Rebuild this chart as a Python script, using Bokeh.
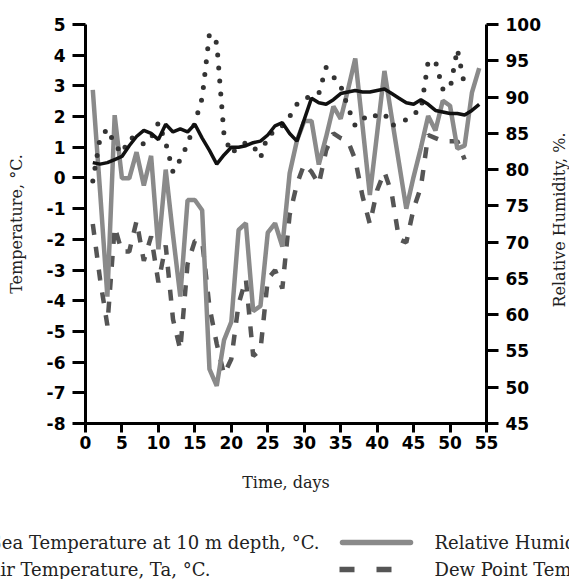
from bokeh.plotting import figure
from bokeh.models import Range1d, LinearAxis, FixedTicker
from bokeh.layouts import row
from bokeh.embed import file_html
from bokeh.resources import INLINE
from bokeh.core.properties import value
import math

# ---------------- data ----------------
days = list(range(1, 55))
sea_temp = [0.5, 0.45, 0.5, 0.6, 0.7, 1.05, 1.35, 1.55, 1.45, 1.25,
            1.75, 1.5, 1.6, 1.5, 1.75, 1.3, 0.9, 0.45, 0.75, 1.0,
            1.0, 1.05, 1.15, 1.2, 1.4, 1.7, 1.8, 1.45, 1.2, 1.9,
            2.6, 2.45, 2.4, 2.55, 2.75, 2.8, 2.85, 2.8, 2.8, 2.85,
            2.9, 2.75, 2.6, 2.45, 2.4, 2.55, 2.4, 2.2, 2.15, 2.1,
            2.1, 2.05, 2.2, 2.4]
rel_hum = [91, 77, 62.5, 87.5, 78.8, 78.8, 82.4, 77.8, 81.9, 69,
           80, 71, 62.5, 75.8, 75.8, 74.4, 52.5, 50.2, 56.5, 59,
           71.7, 72.6, 60.5, 61.2, 71.3, 72.6, 69.4, 79.5, 84, 86.7,
           86.7, 80.7, 84.5, 88.7, 87, 91, 95.3, 86, 76.5, 85,
           93.6, 87.2, 80.9, 74.6, 79, 83, 87.4, 85.4, 89.5, 88.8,
           82.9, 83.3, 90.6, 94]
air_days = list(range(1, 53))
air_temp = [-0.1, 1.3, 1.6, 1.1, 0.8, 1.3, 1.3, 1.1, 1.3, 1.8,
            1.15, 0.2, 0.6, 1.1, 1.8, 2.6, 4.7, 4.4, 1.4, 0.8,
            1.0, 1.15, 1.05, 0.65, 1.4, 1.5, 1.7, 2.0, 2.4, 2.6,
            2.65, 2.75, 3.6, 3.3, 3.0, 2.3, 1.7, 1.9, 2.1, 2.0,
            2.1, 1.7, 1.8, 1.9, 2.1, 2.2, 3.8, 3.8, 2.9, 2.9,
            4.2, 3.0]
dew_days = list(range(1, 53))
dew_point = [-1.5, -3.3, -4.8, -1.6, -2.4, -2.4, -1.4, -2.7, -1.9, -3.4,
             -2.2, -4.6, -5.6, -2.8, -2.05, -2.05, -4.2, -5.4, -6.4, -5.9,
             -4.1, -3.3, -5.8, -5.6, -3.3, -3.0, -3.6, -1.2, -0.2, 0.45,
             0.2, -0.2, 0.9, 1.45, 1.3, 1.2, 0.6, -0.6, -1.5, -0.4,
             0.2, -0.5, -2.0, -2.1, -1.0, -0.3, 1.4, 1.3, 1.2, 1.2,
             1.2, 0.6]

x_ticks = list(range(0, 56, 5))
t_ticks = list(range(-8, 6))
rh_ticks = list(range(45, 101, 5))

legend_left = ["Sea Temperature at 10 m depth, °C.", "Air Temperature, Ta, °C."]
legend_right = ["Relative Humidity, %.", "Dew Point Temperature, °C."]
rh_title = "Relative Humidity, %."

SERIF = "DejaVu Serif"
BT, BB = 24, 75          # top / bottom borders of the chart
PW, LABW = 549, 20       # chart width, width of the right-title strip

# ---------------- main plot ----------------
p = figure(frame_width=401, frame_height=399,
           x_range=Range1d(0, 55), y_range=Range1d(-8, 5),
           output_backend="svg", toolbar_location=None,
           min_border_left=85, min_border_right=PW - 85 - 401,
           min_border_top=BT, min_border_bottom=BB)
p.extra_y_ranges = {"rh": Range1d(45, 100)}
p.outline_line_color = None
p.xgrid.visible = False
p.ygrid.visible = False

p.line(dew_days, dew_point, color="#555555", line_width=4.5, line_dash="11 12")
p.line(days, rel_hum, y_range_name="rh", color="#8a8a8a", line_width=4.5)
p.line(air_days, air_temp, color="#333333", line_width=5, line_dash="0 13", line_cap="round")
p.line(days, sea_temp, color="#111111", line_width=3.5)

rax = LinearAxis(y_range_name="rh")
p.add_layout(rax, "right")

p.xaxis[0].ticker = FixedTicker(ticks=x_ticks)
p.yaxis[0].ticker = FixedTicker(ticks=t_ticks)
p.yaxis[0].major_label_overrides = {t: str(t) for t in t_ticks}
rax.ticker = FixedTicker(ticks=rh_ticks)

p.xaxis[0].axis_label = "Time, days"
p.yaxis[0].axis_label = "Temperature, °C."

for ax in [p.xaxis[0], p.yaxis[0], rax]:
    ax.axis_line_width = 3
    ax.axis_line_color = "black"
    ax.major_tick_line_width = 3
    ax.major_tick_line_color = "black"
    ax.major_tick_in = 0
    ax.major_tick_out = 13
    ax.minor_tick_line_color = None
    ax.major_label_text_font = "DejaVu Sans"
    ax.major_label_text_font_style = "bold"
    ax.major_label_text_font_size = "17px"
    ax.major_label_text_color = "black"
    ax.major_label_standoff = 7
    ax.axis_label_text_font = SERIF
    ax.axis_label_text_font_style = "normal"
    ax.axis_label_text_font_size = "16px"
    ax.axis_label_text_color = "#222222"

p.xaxis[0].major_tick_out = 9
p.xaxis[0].major_label_standoff = 3
p.xaxis[0].axis_label_standoff = 21
p.yaxis[0].axis_label_standoff = 18
rax.major_tick_out = 12

# ---------------- right title strip (reads bottom to top) ----------------
lab = figure(width=LABW, height=BT + 399 + BB, x_range=Range1d(0, 1), y_range=Range1d(0, 1),
             output_backend="svg", toolbar_location=None,
             min_border_left=0, min_border_right=0, min_border_top=BT, min_border_bottom=BB,
             x_axis_type=None, y_axis_type=None)
lab.outline_line_color = None
lab.xgrid.visible = False
lab.ygrid.visible = False
lab.text(x=[0.5], y=[0.51], text=[rh_title], angle=math.pi / 2,
         text_align="center", text_baseline="middle",
         text_font=value(SERIF), text_font_size="16px", text_color="#222222")

# ---------------- legend strip (separate root below the chart) ----------------
LW, LH = 569, 81
lg = figure(width=LW, height=LH, x_range=Range1d(0, LW), y_range=Range1d(LH, 0),
            output_backend="svg", toolbar_location=None, min_border=0,
            x_axis_type=None, y_axis_type=None)
lg.outline_line_color = None
lg.xgrid.visible = False
lg.ygrid.visible = False

row1, row2 = 44, 71
lg.text(x=[319, 210], y=[row1, row2], text=legend_left,
        text_align="right", text_baseline="middle",
        text_font=value(SERIF), text_font_size="18px", text_color="#222222")
lg.text(x=[434, 434], y=[row1, row2], text=legend_right,
        text_align="left", text_baseline="middle",
        text_font=value(SERIF), text_font_size="18px", text_color="#222222")
lg.line(x=[342, 410], y=[row1, row1], color="#8a8a8a", line_width=5.5, line_cap="round")
lg.line(x=[339, 392], y=[row2, row2], color="#555555", line_width=5.5, line_dash="15 22")

open("out.html", "w").write(file_html([row(p, lab), lg], INLINE))
